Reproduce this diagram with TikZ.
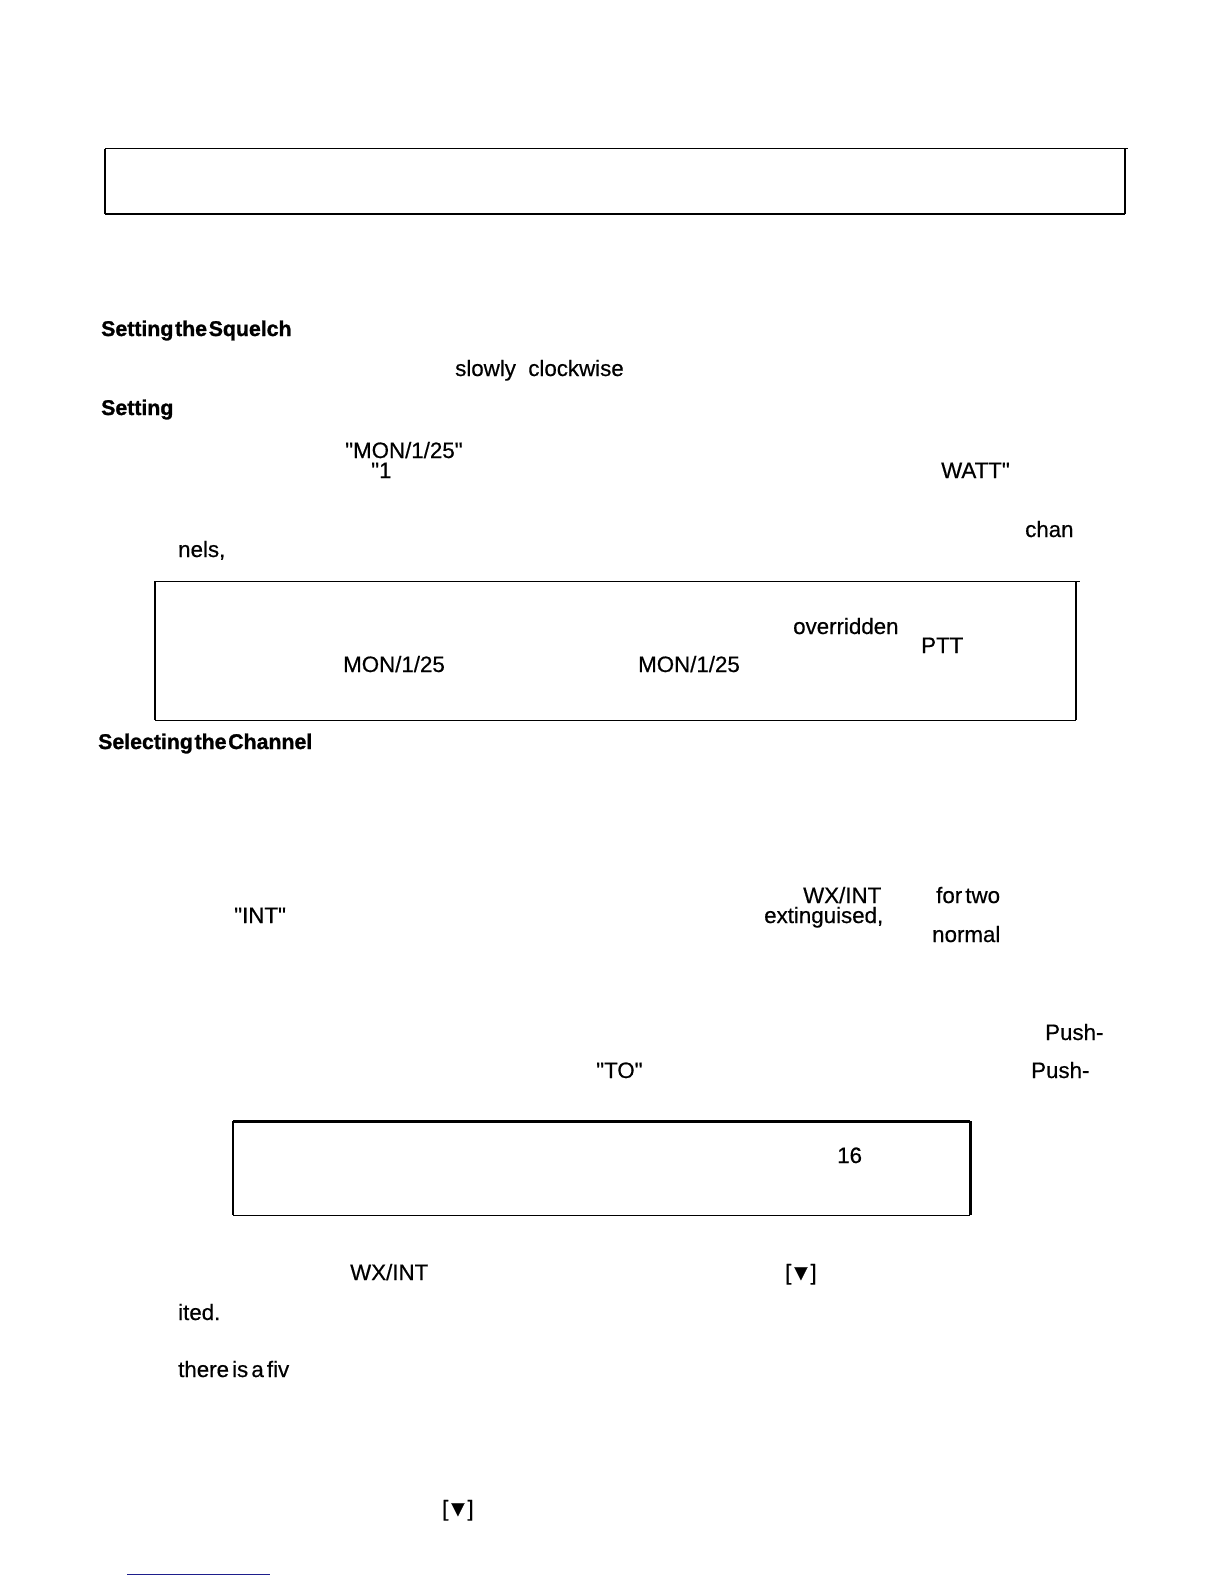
\documentclass[tikz,border=0pt]{standalone}
\usepackage{fontspec}
\setmainfont{Liberation Sans}[Ligatures=TeXOff,FakeBold=0.5,BoldFeatures={FakeBold=1.2}]
\usepackage{tikz}
\usetikzlibrary{positioning}
\newcommand{\tightwords}[1]{\spaceskip #1em\relax}
\newcommand{\downkey}{[\kern-1.5pt▼\kern-1.5pt]}

\begin{document}
\begin{tikzpicture}[x=1pt,y=-1pt,node distance=6pt,
                    word node/.style={anchor=base west,inner sep=0pt,font=\fontsize{22.3}{24}\selectfont\tightwords{0.14}},
                    head node/.style={word node,font=\fontsize{21.3}{24}\selectfont\bfseries\tightwords{0.08}},
                    thin rule/.style={line width=1pt},
                    mid rule/.style={line width=1.5pt},
                    thick rule/.style={line width=2pt},
                    heavy rule/.style={line width=3pt}]

  \useasboundingbox (0,0) rectangle (1224,1584);

  \coordinate (top a) at (105,148.5);
  \coordinate (top b) at (1125,148.5);
  \coordinate (top c) at (1128,148.5);
  \coordinate (end a) at (105,214);
  \coordinate (end b) at (1125,214);
  \draw[thin rule] (top a) -- (top c);
  \draw[mid rule] (top a) -- (end a);
  \draw[thick rule] (end a) -- (end b);
  \draw[thick rule] (top b) -- (end b);

  \coordinate (note a) at (155,581);
  \coordinate (note b) at (1076,581);
  \coordinate (note e) at (1080,581);
  \coordinate (note c) at (155,720);
  \coordinate (note d) at (1076,720);
  \draw[thin rule] (note a) -- (note e);
  \draw[thick rule] (note a) -- (note c);
  \draw[thin rule] (note c) -- (note d);
  \draw[thick rule] (note b) -- (note d);

  \coordinate (warn a) at (233,1121);
  \coordinate (warn b) at (970,1121);
  \coordinate (warn c) at (233,1215);
  \coordinate (warn d) at (970,1215);
  \draw[heavy rule] (warn a) -- (warn b);
  \draw[mid rule] (warn a) -- (warn c);
  \draw[thin rule] (warn c) -- (warn d);
  \draw[heavy rule] (warn b) -- (warn d);

  \coordinate (link a) at (127,1574);
  \coordinate (link b) at (270,1574);
  \draw[thin rule,color={rgb,255:red,30;green,30;blue,140}] (link a) -- (link b);

  \node[head node] (squelch) at (101,336) {Setting the Squelch};
  \node[word node] (slowly) at (455,376) {slowly};
  \node[word node] (clockwise) [base right=12pt of slowly] {clockwise};
  \node[head node] (setting) at (101,415) {Setting};
  \node[word node] (mon a) at (345,458) {"MON/1/25"};
  \node[word node] (one) at (371,478) {"1};
  \node[word node] (watt) at (941,478) {WATT"};
  \node[word node] (chan) at (1025,537) {chan};
  \node[word node] (nels) at (178,557) {nels,};

  \node[word node] (overridden) at (793,634) {overridden};
  \node[word node] (ptt) at (921,653) {PTT};
  \node[word node] (mon b) at (343,672) {MON/1/25};
  \node[word node] (mon c) at (638,672) {MON/1/25};

  \node[head node] (channel) at (98,749) {Selecting the Channel};
  \node[word node] (wx a) at (803,903) {WX/INT};
  \node[word node] (for two) at (936,903) {for two};
  \node[word node] (int) at (234,923) {"INT"};
  \node[word node] (extinguised) at (764,923) {extinguised,};
  \node[word node] (normal) at (932,942) {normal};
  \node[word node] (push a) at (1045,1040) {Push-};
  \node[word node] (to) at (596,1078) {"TO"};
  \node[word node] (push b) at (1031,1078) {Push-};

  \node[word node] (sixteen) at (837,1163) {16};

  \node[word node] (wx b) at (350,1280) {WX/INT};
  \node[word node] (down a) at (785,1280) {\downkey};
  \node[word node] (ited) at (178,1320) {ited.};
  \node[word node] (there) at (178,1377) {there is a fiv};
  \node[word node] (down b) at (442,1516) {\downkey};
\end{tikzpicture}
\end{document}
